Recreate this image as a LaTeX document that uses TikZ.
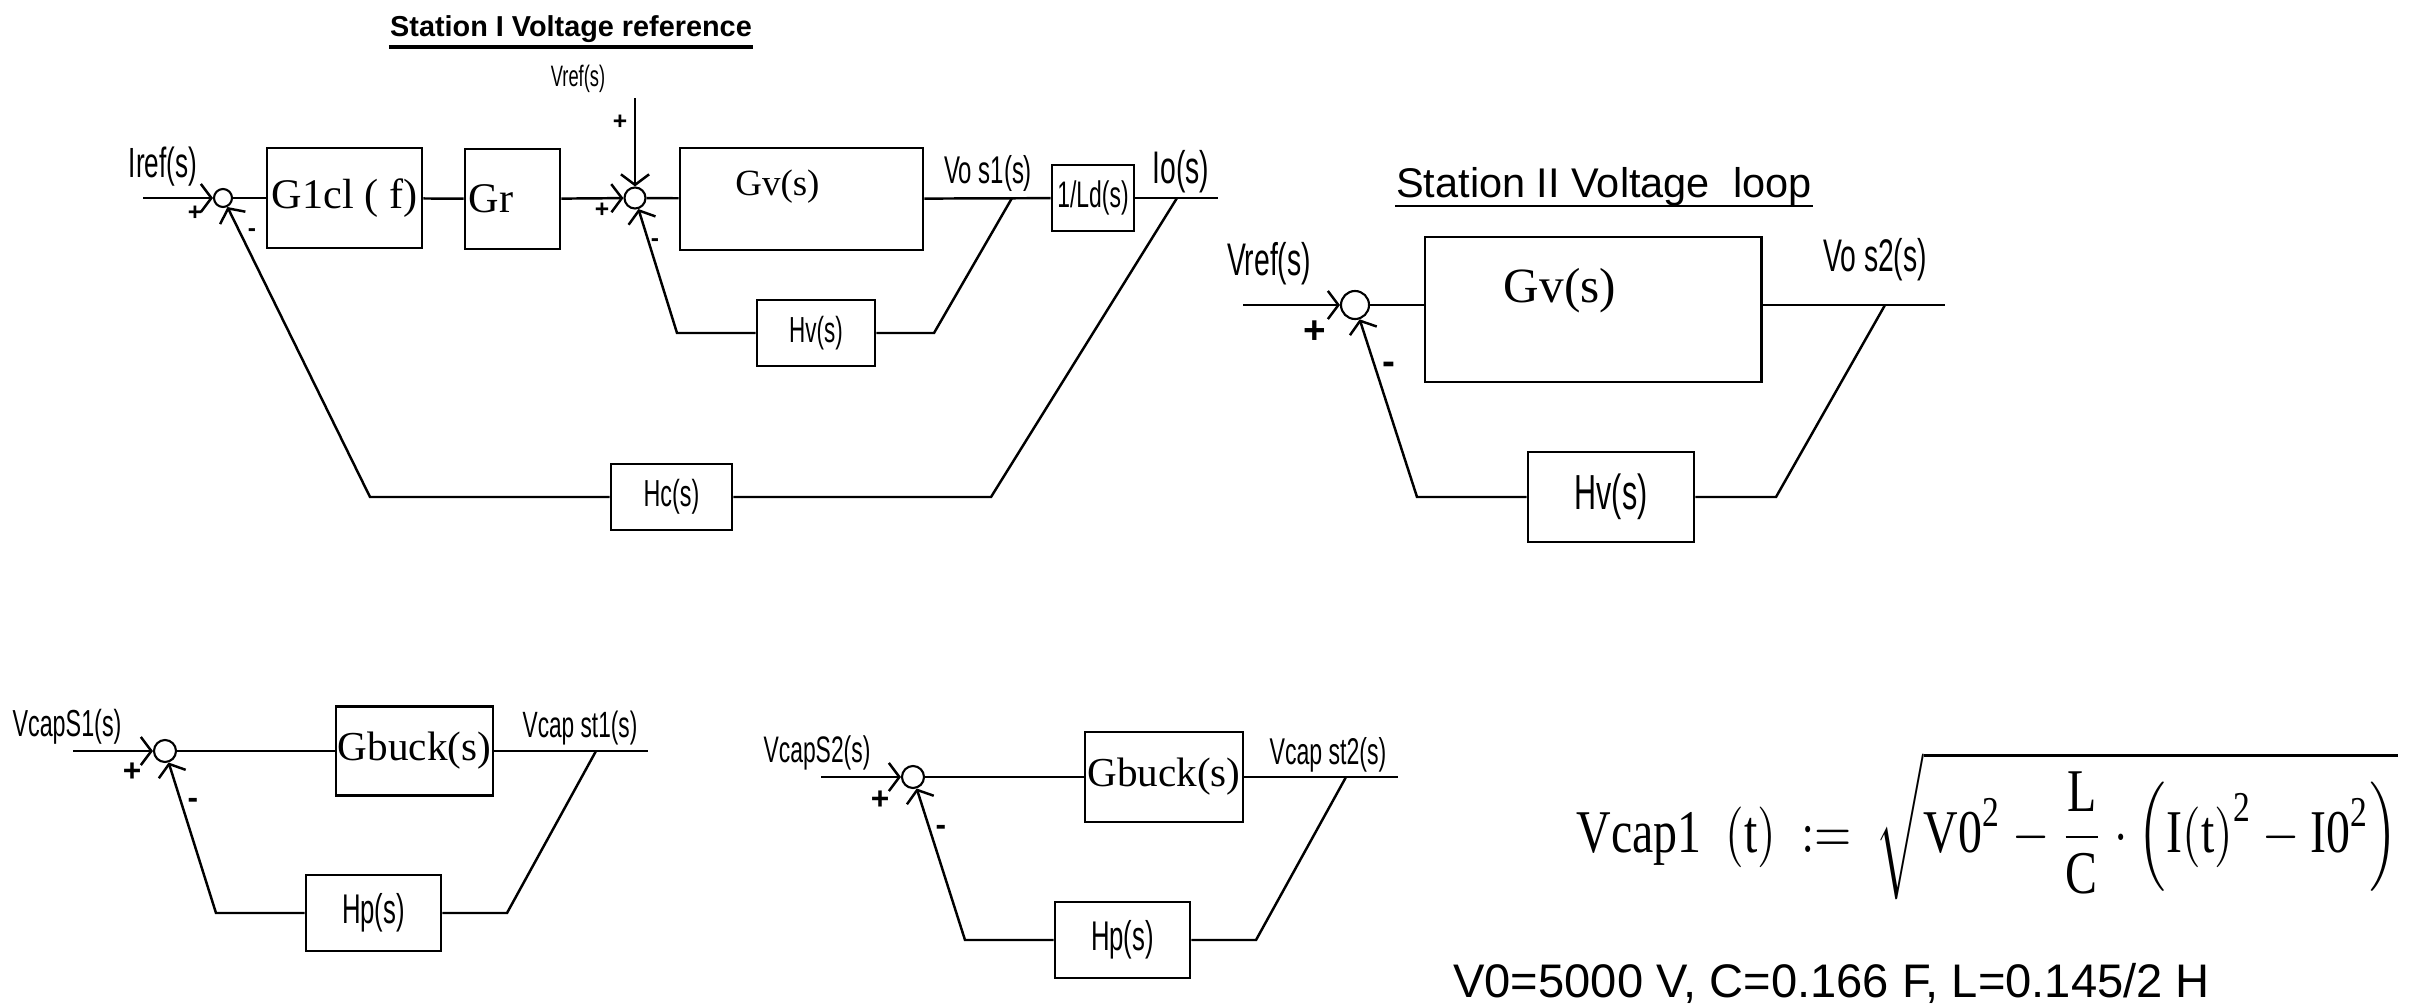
\documentclass[tikz,border=0pt]{standalone}
\usepackage{fontspec}
\usepackage{graphicx}
\setmainfont{Liberation Serif}
\newfontfamily\armfont{Liberation Sans}
\newfontfamily\narrowfont[FakeStretch=0.62]{Liberation Sans}
\usetikzlibrary{arrows.meta}

\newcommand{\fsz}[1]{\fontsize{#1}{#1}\selectfont}

\begin{document}
\begin{tikzpicture}[ x=0.01cm, y=-0.01cm, line width=0.7pt,
	blk/.style={ draw, line width=0.8pt, inner sep=0pt },
	sum/.style={ draw, circle, inner sep=0pt, line width=0.6pt },
	sig/.style={ font=\narrowfont, inner sep=0pt },
	gain/.style={ inner sep=0pt },
	sgn/.style={ font=\armfont\bfseries, inner sep=0pt },
	feed/.style={ -{Straight Barb[length=3pt, width=8pt]} } ]

	\useasboundingbox (0, 0) rectangle (2422, 1006);

	% Station I
	\node[ anchor=base, font=\armfont\bfseries\fsz{8.2}, inner sep=0pt ] (titleA) at (571, 37) {Station I Voltage reference};
	\draw[ line width=0.9pt ] ([yshift=-0.1cm] titleA.base west) -- ([yshift=-0.1cm] titleA.base east);

	\node[ sig ] (iref) at (163, 167) {\fsz{12}Iref(s)};
	\coordinate (irefin) at (143, 198);
	\node[ sum, minimum size=0.18cm ] (s1) at (223, 198) {};
	\node[ blk, minimum width=1.55cm, minimum height=1cm ] (g1) at (344.5, 198) {\fsz{12}G1cl ( f)};
	\node[ blk, minimum width=0.95cm, minimum height=1cm ] (gr) at (512.5, 199) {};
	\node[ gain, anchor=west ] (grtxt) at ([xshift=0.04cm] gr.west) {\fsz{12}Gr};
	\node[ sum, minimum size=0.21cm ] (s2) at (635, 198) {};
	\node[ sig, anchor=base ] (vref1) at (578, 86) {\fsz{8.4}Vref(s)};
	\coordinate (vrefin) at (635, 98);
	\node[ blk, minimum width=2.43cm, minimum height=1.02cm ] (gv1) at (801.5, 199) {};
	\node[ gain ] (gv1txt) at ([shift={(-0.24cm, 0.12cm)}] gv1.center) {\fsz{10.5}Gv(s)};
	\node[ sig ] (vos1) at (988, 173) {\fsz{11}Vo s1(s)};
	\node[ blk, minimum width=0.82cm, minimum height=0.66cm ] (ld) at (1093, 198) {\narrowfont\fsz{10.5}1/Ld(s)};
	\node[ sig ] (io) at (1181, 172) {\fsz{13}Io(s)};
	\coordinate (tap1) at (1012, 198);
	\coordinate (tap2) at (1177, 198);
	\coordinate (ioend) at (1218, 198);
	\node[ blk, minimum width=1.18cm, minimum height=0.66cm ] (hv1) at (816, 333) {\narrowfont\fsz{10.3}Hv(s)};
	\coordinate (hv1l) at (677, 333);
	\coordinate (hv1r) at (934, 333);
	\node[ blk, minimum width=1.21cm, minimum height=0.66cm ] (hc) at (671.5, 497) {\narrowfont\fsz{10.7}Hc(s)};
	\coordinate (hcl) at (370, 497);
	\coordinate (hcr) at (991, 497);

	\node[ sgn, font=\armfont\bfseries\fsz{7} ] (p1) at (195, 213) {+};
	\node[ sgn, font=\armfont\bfseries\fsz{7} ] (m1) at (252, 233) {-};
	\node[ sgn, font=\armfont\bfseries\fsz{7} ] (p2) at (602, 210) {+};
	\node[ sgn, font=\armfont\bfseries\fsz{7} ] (m2) at (655, 243) {-};
	\node[ sgn, font=\armfont\bfseries\fsz{7} ] (p3) at (620, 122) {+};

	\draw[ feed ] (irefin) -- (s1);
	\draw (s1) -- (g1);
	\draw (g1) -- (gr);
	\draw[ feed ] (gr) -- (s2);
	\draw[ feed ] (vrefin) -- (s2);
	\draw (s2) -- (gv1);
	\draw (gv1) -- (ld);
	\draw (ld) -- (ioend);
	\draw (tap1) -- (hv1r) -- (hv1);
	\draw[ feed ] (hv1) -- (hv1l) -- (s2);
	\draw (tap2) -- (hcr) -- (hc);
	\draw[ feed ] (hc) -- (hcl) -- (s1);

	% Station II
	\node[ anchor=base west, font=\armfont\fsz{11.8}, inner sep=0pt ] (titleB) at (1395, 197) {Station II Voltage\ \ loop};
	\draw[ line width=0.8pt ] ([yshift=-0.09cm] titleB.base west) -- ([yshift=-0.09cm] titleB.base east);

	\node[ sig ] (vref2) at (1269, 264) {\fsz{13}Vref(s)};
	\coordinate (vref2in) at (1243, 305);
	\node[ sum, minimum size=0.28cm ] (s3) at (1355, 305) {};
	\node[ blk, minimum width=3.36cm, minimum height=1.45cm ] (gv2) at (1593, 309.5) {};
	\node[ gain ] (gv2txt) at ([shift={(-0.33cm, 0.19cm)}] gv2.center) {\fsz{14}Gv(s)};
	\node[ sig ] (vos2) at (1875, 260) {\fsz{13}Vo s2(s)};
	\coordinate (tap3) at (1885, 305);
	\coordinate (vos2end) at (1945, 305);
	\node[ blk, minimum width=1.66cm, minimum height=0.9cm ] (hv2) at (1611, 497) {\narrowfont\fsz{14}Hv(s)};
	\coordinate (hv2l) at (1417, 497);
	\coordinate (hv2r) at (1776, 497);

	\node[ sgn, font=\armfont\bfseries\fsz{11} ] (p4) at (1315, 332) {+};
	\node[ sgn, font=\armfont\bfseries\fsz{11} ] (m4) at (1389, 368) {-};

	\draw[ feed ] (vref2in) -- (s3);
	\draw (s3) -- (s3 -| gv2.west);
	\draw (gv2.east |- s3) -- (vos2end);
	\draw (tap3) -- (hv2r) -- (hv2);
	\draw[ feed ] (hv2) -- (hv2l) -- (s3);

	% capacitor loop, station 1
	\node[ sig ] (vcs1) at (67, 727) {\fsz{10.7}VcapS1(s)};
	\coordinate (vcs1in) at (73, 751);
	\node[ sum, minimum size=0.22cm ] (s4) at (165, 751) {};
	\node[ blk, minimum width=1.57cm, minimum height=0.89cm ] (gb1) at (414.5, 751) {\fsz{11.7}Gbuck(s)};
	\node[ sig ] (vct1) at (580, 728) {\fsz{10.4}Vcap st1(s)};
	\coordinate (tap4) at (596, 751);
	\coordinate (vct1end) at (648, 751);
	\node[ blk, minimum width=1.35cm, minimum height=0.76cm ] (hp1) at (373.5, 913) {\narrowfont\fsz{11.8}Hp(s)};
	\coordinate (hp1l) at (216, 913);
	\coordinate (hp1r) at (507, 913);

	\node[ sgn, font=\armfont\bfseries\fsz{9} ] (p5) at (132, 772) {+};
	\node[ sgn, font=\armfont\bfseries\fsz{9} ] (m5) at (193, 803) {-};

	\draw[ feed ] (vcs1in) -- (s4);
	\draw (s4) -- (gb1);
	\draw (gb1) -- (vct1end);
	\draw (tap4) -- (hp1r) -- (hp1);
	\draw[ feed ] (hp1) -- (hp1l) -- (s4);

	% capacitor loop, station 2
	\node[ sig ] (vcs2) at (817, 753) {\fsz{10.5}VcapS2(s)};
	\coordinate (vcs2in) at (821, 777);
	\node[ sum, minimum size=0.22cm ] (s5) at (913, 777) {};
	\node[ blk, minimum width=1.58cm, minimum height=0.9cm ] (gb2) at (1164, 777) {\fsz{11.7}Gbuck(s)};
	\node[ sig ] (vct2) at (1328, 755) {\fsz{10.6}Vcap st2(s)};
	\coordinate (tap5) at (1346, 777);
	\coordinate (vct2end) at (1398, 777);
	\node[ blk, minimum width=1.35cm, minimum height=0.76cm ] (hp2) at (1122.5, 940) {\narrowfont\fsz{11.8}Hp(s)};
	\coordinate (hp2l) at (965, 940);
	\coordinate (hp2r) at (1256, 940);

	\node[ sgn, font=\armfont\bfseries\fsz{9} ] (p6) at (880, 800) {+};
	\node[ sgn, font=\armfont\bfseries\fsz{9} ] (m6) at (941, 830) {-};

	\draw[ feed ] (vcs2in) -- (s5);
	\draw (s5) -- (gb2);
	\draw (gb2) -- (vct2end);
	\draw (tap5) -- (hp2r) -- (hp2);
	\draw[ feed ] (hp2) -- (hp2l) -- (s5);

	% capacitor voltage
	\node[ inner sep=0pt ] (vcap) at (1987.5, 826) {\resizebox*{8.21cm}{1.48cm}{$\displaystyle \mathrm{Vcap1\ \ (t)\ :=\ \ }\sqrt{\mathrm{V0}^{\mathrm{2}} - \frac{\mathrm{L}}{\mathrm{C}}\cdot\left(\mathrm{I(t)}^{\mathrm{2}} - \mathrm{I0}^{\mathrm{2}}\right)}$}};
	\node[ anchor=base west, inner sep=0pt, font=\armfont\fsz{13.4} ] (params) at (1452, 997) {V0=5000 V, C=0.166 F, L=0.145/2 H};

\end{tikzpicture}
\end{document}
